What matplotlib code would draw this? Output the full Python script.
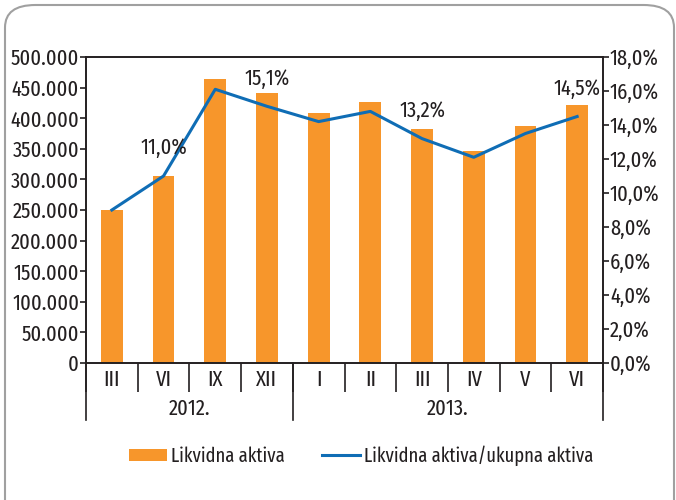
import matplotlib
matplotlib.use("Agg")
import matplotlib.pyplot as plt
from matplotlib import font_manager as fm
from matplotlib.patches import FancyBboxPatch, Patch
from matplotlib.lines import Line2D
from matplotlib.ticker import FuncFormatter
import matplotlib.transforms as mtransforms

names = {f.name for f in fm.fontManager.ttflist}
FONT = 'DejaVu Sans'
for cand in ['Fira Sans Extra Condensed', 'PT Sans Narrow', 'Roboto Condensed',
             'Fira Sans Condensed', 'Open Sans Condensed', 'Sofia Sans Condensed']:
    if cand in names:
        FONT = cand
        break
plt.rcParams['font.family'] = [FONT, 'DejaVu Sans']
plt.rcParams['font.weight'] = 'normal'

# ---- data ----
categories = ["III", "VI", "IX", "XII", "I", "II", "III", "IV", "V", "VI"]
years = ["2012.", "2013."]
year_counts = [4, 6]
liquid_assets = [250000, 306000, 464000, 441000, 408000, 427000, 382000, 346000, 387000, 422000]
ratio = [9.0, 11.0, 16.1, 15.1, 14.2, 14.8, 13.2, 12.1, 13.5, 14.5]
label_idx = [1, 3, 6, 9]
series_names = ["Likvidna aktiva", "Likvidna aktiva/ukupna aktiva"]

BAR_C = "#f7962b"
LINE_C = "#0f6db5"
TXT = "#231f20"
FS = 16
LFS = 14.5

W, H = 676, 500
fig = plt.figure(figsize=(W/100, H/100), dpi=100)

frame = FancyBboxPatch((5/W, -40/H), 669/W, 535/H, boxstyle="round,pad=0,rounding_size=0.045",
                       transform=fig.transFigure, fill=False, edgecolor="#a0a0a0", linewidth=1.5)
fig.patches.append(frame)

L, R, T, B = 86, 603, 57, 363
ax = fig.add_axes([L/W, 1-B/H, (R-L)/W, (B-T)/H])
ax2 = ax.twinx()

x = list(range(len(categories)))
ax.bar(x, liquid_assets, width=0.42, color=BAR_C, zorder=2)
ax.set_xlim(-0.5, len(categories)-0.5)
ax.set_ylim(0, 500000)
ax.set_yticks(range(0, 500001, 50000))
ax.yaxis.set_major_formatter(FuncFormatter(lambda v, p: f"{int(v):,}".replace(",", ".")))
ax2.set_ylim(0, 18)
ax2.set_yticks(range(0, 19, 2))
ax2.yaxis.set_major_formatter(FuncFormatter(lambda v, p: f"{v:.1f}%".replace(".", ",")))
ax2.plot(x, ratio, color=LINE_C, linewidth=2.2, zorder=3)
for i in label_idx:
    ax2.annotate(f"{ratio[i]:.1f}%".replace(".", ","), (x[i], ratio[i]), xytext=(0, 20),
                 textcoords="offset points", ha="center", va="center", fontsize=FS, color=TXT)

for a in (ax, ax2):
    for s in a.spines.values():
        s.set_color(TXT)
        s.set_linewidth(1.2)
ax.tick_params(axis='y', labelsize=FS, colors=TXT, length=4, width=1.2, pad=1)
ax2.tick_params(axis='y', labelsize=FS, colors=TXT, length=4, width=1.2, pad=1)

# category ticks at boundaries
bounds = [i - 0.5 for i in range(len(categories)+1)]
ax.set_xticks(bounds)
ax.set_xticklabels([])
ax.tick_params(axis='x', length=21, width=1.2, colors=TXT)
trans = mtransforms.blended_transform_factory(ax.transData, ax.transAxes)
ph = B - T
for i, c in enumerate(categories):
    ax.text(i, -17/ph, c, transform=trans, ha="center", va="center", fontsize=FS, color=TXT)
start = 0
seps = [-0.5]
for yname, n in zip(years, year_counts):
    ax.text(start + n/2 - 0.5, -46/ph, yname, transform=trans, ha="center", va="center",
            fontsize=FS, color=TXT)
    start += n
    seps.append(start - 0.5)
for s in seps:
    ax.plot([s, s], [0, -57/ph], transform=trans, color=TXT, lw=1.2, clip_on=False)

handles = [Patch(facecolor=BAR_C, edgecolor='none'), Line2D([], [], color=LINE_C, lw=2.2)]
fig.legend(handles, series_names, loc="center", bbox_to_anchor=(361/W, 1-456/H), ncol=2,
           frameon=False, fontsize=LFS, handlelength=1.9, handleheight=0.6, handletextpad=0.2,
           columnspacing=1.85, labelcolor=TXT)

fig.savefig("out.png", dpi=100)
